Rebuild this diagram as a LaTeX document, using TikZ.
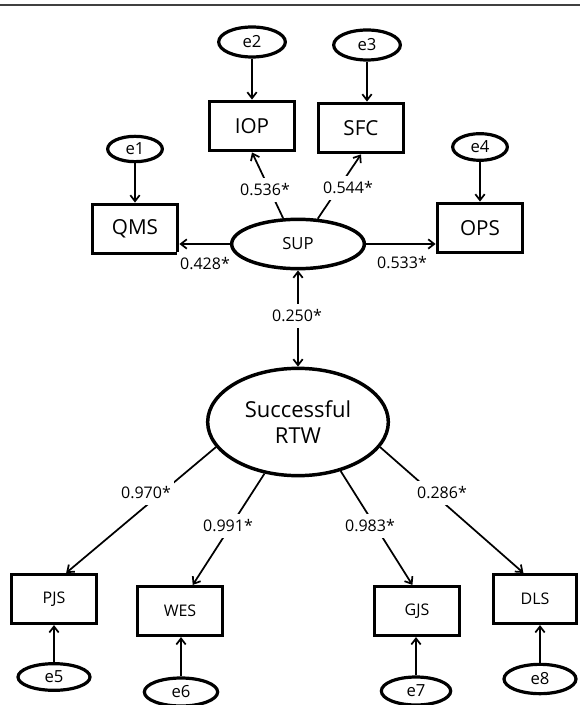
\documentclass[tikz,border=0pt]{standalone}
\usepackage{fontspec}
\setmainfont{Open Sans}
\usetikzlibrary{arrows.meta,shapes.geometric}

\begin{document}
\begin{tikzpicture}[x=0.75pt,y=0.75pt,yscale=-1,xscale=1,
  >={Straight Barb[length=4.5pt,width=7pt]},
  obs/.style={draw,rectangle,line width=2.6pt,inner sep=0pt,minimum width=64pt,minimum height=37pt,font=\fontsize{15.5}{18}\selectfont},
  obslow/.style={obs,minimum height=36.5pt,font=\fontsize{12}{14}\selectfont},
  err/.style={draw,ellipse,line width=2.4pt,inner sep=0pt,font=\fontsize{12.5}{14}\selectfont},
  lat/.style={draw,ellipse,line width=2.6pt,inner sep=0pt},
  coef/.style={fill=white,inner xsep=2pt,inner ysep=4pt,font=\fontsize{12}{14}\selectfont},
  arr/.style={->,line width=1.3pt}]
\useasboundingbox (0,0) rectangle (580,705);
\draw[line width=1.5pt,color=black!75] (0,5) -- (580,5);
% indicators of SUP
\draw (135,229) node [obs] (qms) {QMS};
\draw (252,126) node [obs] (iop) {IOP};
\draw (361,128) node [obs] (sfc) {SFC};
\draw (480,228) node [obs] (ops) {OPS};
\draw (135,149) node [err,minimum width=41pt,minimum height=19pt] (e1) {e1};
\draw (252,42) node [err,minimum width=50pt,minimum height=22.5pt] (e2) {e2};
\draw (367,45) node [err,minimum width=50pt,minimum height=22.5pt] (e3) {e3};
\draw (480,147) node [err,minimum width=41pt,minimum height=20pt] (e4) {e4};
% latent variables
\draw (298,244) node [lat,minimum width=99.5pt,minimum height=37pt,font=\fontsize{12.5}{15}\selectfont] (sup) {SUP};
\draw (298,422) node [lat,minimum width=135.5pt,minimum height=80.5pt,align=center,font=\fontsize{16.5}{20}\selectfont] (rtw) {Successful\\RTW};
% indicators of RTW
\draw (54,599) node [obslow] (pjs) {PJS};
\draw (180,611) node [obslow] (wes) {WES};
\draw (417,611) node [obslow] (gjs) {GJS};
\draw (535,599) node [obslow,minimum width=62pt] (dls) {DLS};
\draw (54,677) node [err,minimum width=54pt,minimum height=20pt] (e5) {e5};
\draw (181,692) node [err,minimum width=55pt,minimum height=21pt] (e6) {e6};
\draw (416,691) node [err,minimum width=52pt,minimum height=21pt] (e7) {e7};
\draw (540,679) node [err,minimum width=54pt,minimum height=22pt] (e8) {e8};

\draw[arr] (e1) -- (qms);
\draw[arr] (e2) -- (iop);
\draw[arr] (e3) -- (e3 |- sfc.north);
\draw[arr] (e4) -- (ops);
\draw[arr] (e5) -- (pjs);
\draw[arr] (e6) -- (e6 |- wes.south);
\draw[arr] (e7) -- (e7 |- gjs.south);
\draw[arr] (e8) -- (e8 |- dls.south);

\draw[arr] (sup.west) -- (sup.west -| qms.east);
\draw[arr] (sup.120) -- (iop.south);
\draw[arr] (sup.52) -- (sfc.south);
\draw[arr] (sup.east) -- (sup.east -| ops.west);
\draw[arr,<->] (sup) -- (rtw);
\draw[arr] (rtw.197) -- (pjs.65);
\draw[arr] (rtw.237) -- (wes.64);
\draw[arr] (rtw.311) -- (gjs.100);
\draw[arr] (rtw.343) -- (dls.114);

% loadings
\draw (265,190) node [coef] (l1) {0.536*};
\draw (348,188) node [coef] (l2) {0.544*};
\draw (205,264) node [coef] (l3) {0.428*};
\draw (402,263) node [coef] (l4) {0.533*};
\draw (297,316) node [coef] (l5) {0.250*};
\draw (146,493) node [coef] (l6) {0.970*};
\draw (228,526) node [coef] (l7) {0.991*};
\draw (370,526) node [coef] (l8) {0.983*};
\draw (442,493) node [coef] (l9) {0.286*};
\end{tikzpicture}
\end{document}
